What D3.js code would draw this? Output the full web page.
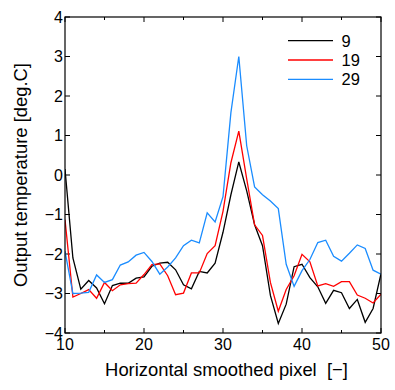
<!DOCTYPE html>
<html>
<head>
<meta charset="utf-8">
<script src="https://cdn.jsdelivr.net/npm/d3@7"></script>
<style>
html,body{margin:0;padding:0;background:#fff;}
svg{display:block;font-family:"Liberation Sans",Arial,sans-serif;}
text{white-space:pre;}
</style>
</head>
<body>
<svg id="chart" width="395" height="390"></svg>
<script>
const xValues = d3.range(10, 51);
const seriesNames = ["9", "19", "29"];
const seriesColors = ["#000000", "#ff0000", "#1a8cff"];
const s9 = [0.15,-2.1,-2.89,-2.67,-2.86,-3.26,-2.8,-2.74,-2.74,-2.61,-2.58,-2.31,-2.23,-2.21,-2.4,-2.78,-2.88,-2.44,-2.48,-2.23,-1.45,-0.5,0.33,-0.4,-1.26,-1.79,-3.05,-3.76,-3.27,-2.32,-2.26,-2.6,-2.83,-3.25,-2.92,-2.98,-3.38,-3.15,-3.73,-3.38,-2.5];
const s19 = [-1.13,-3.09,-3.0,-2.9,-3.12,-2.72,-2.93,-2.78,-2.75,-2.74,-2.52,-2.27,-2.25,-2.55,-3.03,-2.99,-2.48,-2.48,-1.99,-1.79,-0.92,0.31,1.11,-0.1,-1.26,-1.53,-2.72,-3.45,-2.9,-2.55,-2.01,-2.2,-2.81,-2.75,-2.82,-2.7,-2.7,-3.04,-3.12,-3.24,-3.02];
const s29 = [-1.93,-3.0,-2.99,-2.97,-2.53,-2.72,-2.65,-2.28,-2.2,-2.03,-1.96,-2.19,-2.51,-2.33,-2.1,-1.79,-1.65,-1.72,-0.96,-1.19,-0.55,1.58,3.0,0.74,-0.3,-0.5,-0.66,-0.85,-2.26,-2.82,-2.42,-2.14,-1.71,-1.65,-2.06,-2.18,-1.98,-1.77,-1.86,-2.41,-2.51];
const seriesValues = [s9, s19, s29];
const xTicks = [10, 20, 30, 40, 50];
const xMinorTicks = [15, 25, 35, 45];
const yTicks = [-4, -3, -2, -1, 0, 1, 2, 3, 4];
const xTitle = "Horizontal smoothed pixel  [\u2212]";
const yTitle = "Output temperature [deg.C]";

const svg = d3.select("#chart");
const L = 65, R = 381, T = 17, B = 333;
const x = d3.scaleLinear().domain([10, 50]).range([L, R]);
const y = d3.scaleLinear().domain([-4, 4]).range([B, T]);
const fmt = v => (v < 0 ? "\u2212" + Math.abs(v) : String(v));

// ticks (inward)
const g = svg.append("g");
const tickLen = 5, minorLen = 3;
g.selectAll(".yl").data(yTicks).join("line")
  .attr("x1", L).attr("x2", L + tickLen).attr("y1", d => y(d)).attr("y2", d => y(d))
  .attr("stroke", "#000").attr("stroke-width", 1);
g.selectAll(".yr").data(yTicks).join("line")
  .attr("x1", R).attr("x2", R - tickLen).attr("y1", d => y(d)).attr("y2", d => y(d))
  .attr("stroke", "#000").attr("stroke-width", 1);
g.selectAll(".xb").data(xTicks).join("line")
  .attr("x1", d => x(d)).attr("x2", d => x(d)).attr("y1", B).attr("y2", B - tickLen)
  .attr("stroke", "#000").attr("stroke-width", 1);
g.selectAll(".xbm").data(xMinorTicks).join("line")
  .attr("x1", d => x(d)).attr("x2", d => x(d)).attr("y1", B).attr("y2", B - minorLen)
  .attr("stroke", "#000").attr("stroke-width", 1);
g.selectAll(".xt").data(xTicks).join("line")
  .attr("x1", d => x(d)).attr("x2", d => x(d)).attr("y1", T).attr("y2", T + tickLen)
  .attr("stroke", "#000").attr("stroke-width", 1);
g.selectAll(".xtm").data(xMinorTicks).join("line")
  .attr("x1", d => x(d)).attr("x2", d => x(d)).attr("y1", T).attr("y2", T + minorLen)
  .attr("stroke", "#000").attr("stroke-width", 1);

// tick labels
svg.append("g").selectAll("text").data(yTicks).join("text")
  .attr("x", L - 2).attr("y", d => y(d)).attr("dy", "0.35em")
  .attr("text-anchor", "end").attr("font-size", 16).text(fmt);
svg.append("g").selectAll("text").data(xTicks).join("text")
  .attr("x", d => x(d)).attr("y", B + 17)
  .attr("text-anchor", "middle").attr("font-size", 16).text(fmt);

// lines
const line = d3.line().x((d, i) => x(xValues[i])).y(d => y(d));
const clipId = "plotclip";
svg.append("clipPath").attr("id", clipId).append("rect")
  .attr("x", L).attr("y", T).attr("width", R - L).attr("height", B - T);
svg.append("g").attr("clip-path", `url(#${clipId})`)
  .selectAll("path").data(seriesValues).join("path")
  .attr("d", d => line(d)).attr("fill", "none")
  .attr("stroke", (d, i) => seriesColors[i]).attr("stroke-width", 1.3)
  .attr("stroke-linejoin", "miter");

// frame
svg.append("rect").attr("x", L).attr("y", T).attr("width", R - L).attr("height", B - T)
  .attr("fill", "none").attr("stroke", "#000").attr("stroke-width", 1.2);

// legend
const lg = svg.append("g");
seriesNames.forEach((n, i) => {
  const yy = 40.7 + i * 19.3;
  lg.append("line").attr("x1", 288).attr("x2", 333).attr("y1", yy).attr("y2", yy)
    .attr("stroke", seriesColors[i]).attr("stroke-width", 1.3);
  lg.append("text").attr("x", 341.5).attr("y", yy).attr("dy", "0.36em")
    .attr("font-size", 16.5).text(n);
});

// axis titles
svg.append("text").attr("x", 226.5).attr("y", 376).attr("text-anchor", "middle")
  .attr("font-size", 18.4).text(xTitle);
svg.append("text").attr("transform", "translate(27,175) rotate(-90)")
  .attr("text-anchor", "middle").attr("font-size", 18.4).text(yTitle);
</script>
</body>
</html>
